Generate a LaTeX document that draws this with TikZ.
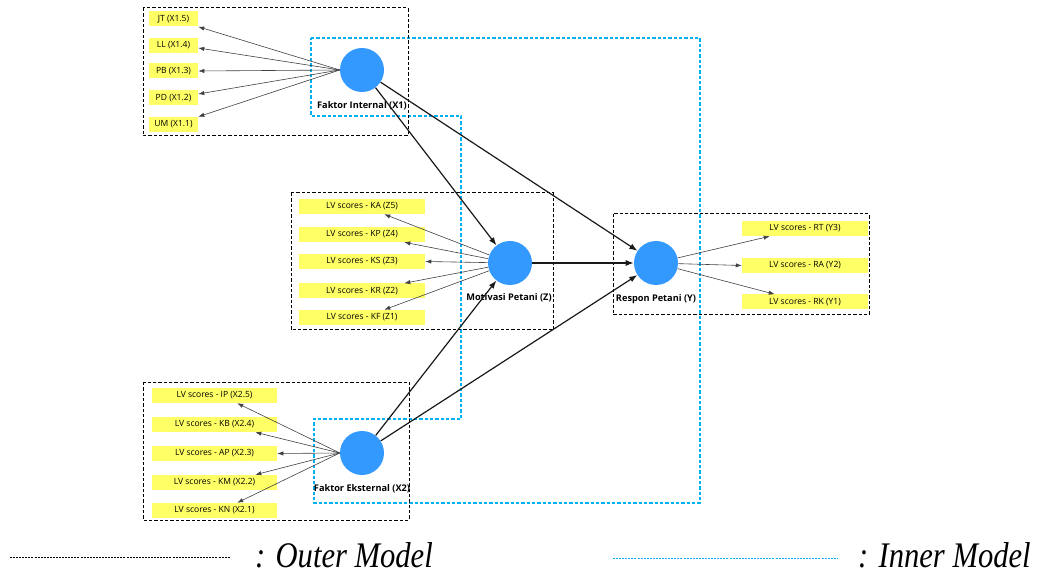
\documentclass[tikz,border=0pt]{standalone}
\usepackage{fontspec}
\newfontfamily\uifont{Open Sans}
\newfontfamily\legfont{Liberation Serif}
\usetikzlibrary{arrows.meta,calc}
\definecolor{ylw}{RGB}{255,255,102}
\definecolor{lvblue}{RGB}{51,153,255}
\definecolor{innerblue}{RGB}{0,176,240}
\begin{document}
\begin{tikzpicture}[x=0.75pt,y=-0.75pt,
  ybox/.style={fill=ylw, inner sep=0pt, minimum height=11.25pt, font=\uifont\fontsize{6.4}{7}\selectfont},
  lv/.style={circle, fill=lvblue, minimum size=33pt, inner sep=0pt},
  lvlabel/.style={font=\uifont\bfseries\fontsize{6.9}{8}\selectfont, inner sep=0pt},
  outerbox/.style={draw=black, line width=0.75pt, dash pattern=on 2.6pt off 1.4pt},
  innerbox/.style={draw=innerblue, line width=0.85pt, dash pattern=on 2.6pt off 1.4pt},
  outarrow/.style={draw=black!75, line width=0.45pt, -{Latex[length=4.5pt,width=3.2pt]}},
  inarrow/.style={draw=black!90, line width=0.9pt, -{Latex[length=6pt,width=4.5pt]}},
  legtext/.style={font=\legfont\itshape\fontsize{27}{30}\selectfont, inner sep=0pt, xscale=0.85, anchor=base west}
]
\useasboundingbox (0,0) rectangle (1038,573);

% inner model polygon
\draw[innerbox] (311,38) -- (700,38) -- (700,503) -- (314,503) -- (314,419) -- (461,419) -- (461,116) -- (311,116) -- cycle;

% outer model boxes
\draw[outerbox] (143,8) rectangle (408,136);
\draw[outerbox] (291,193) rectangle (553,330);
\draw[outerbox] (613,214) rectangle (869,315);
\draw[outerbox] (143,382) rectangle (409,520);

% latent variables
\node[lv] (x1) at (362,70) {};
\node[lv] (z) at (510,263) {};
\node[lv] (y) at (656,263) {};
\node[lv] (x2) at (362,453) {};

\node[lvlabel] (x1l) at (362,106) {Faktor Internal (X1)};
\node[lvlabel] (zl) at (509,298) {Motivasi Petani (Z)};
\node[lvlabel] (yl) at (656,299) {Respon Petani (Y)};
\node[lvlabel] (x2l) at (362,489) {Faktor Eksternal (X2)};

% X1 indicators
\node[ybox, minimum width=36.75pt] (jt) at (173.5,19) {JT (X1.5)};
\node[ybox, minimum width=36.75pt] (ll) at (173.5,45.5) {LL (X1.4)};
\node[ybox, minimum width=36.75pt] (pb) at (173.5,71) {PB (X1.3)};
\node[ybox, minimum width=36.75pt] (pd) at (173.5,98) {PD (X1.2)};
\node[ybox, minimum width=36.75pt] (um) at (173.5,124.5) {UM (X1.1)};

% Z indicators
\node[ybox, minimum width=94.5pt] (ka) at (362,206.5) {LV scores - KA (Z5)};
\node[ybox, minimum width=94.5pt] (kp) at (362,234.5) {LV scores - KP (Z4)};
\node[ybox, minimum width=94.5pt] (ks) at (362,261.5) {LV scores - KS (Z3)};
\node[ybox, minimum width=94.5pt] (kr) at (362,291) {LV scores - KR (Z2)};
\node[ybox, minimum width=94.5pt] (kf) at (362,317.5) {LV scores - KF (Z1)};

% Y indicators
\node[ybox, minimum width=94.5pt] (rt) at (805,228.5) {LV scores - RT (Y3)};
\node[ybox, minimum width=94.5pt] (ra) at (805,265.5) {LV scores - RA (Y2)};
\node[ybox, minimum width=94.5pt] (rk) at (805,302) {LV scores - RK (Y1)};

% X2 indicators
\node[ybox, minimum width=93.75pt] (ip) at (214.5,395.5) {LV scores - IP (X2.5)};
\node[ybox, minimum width=93.75pt] (kb) at (214.5,424.5) {LV scores - KB (X2.4)};
\node[ybox, minimum width=93.75pt] (ap) at (214.5,453.5) {LV scores - AP (X2.3)};
\node[ybox, minimum width=93.75pt] (km) at (214.5,482.5) {LV scores - KM (X2.2)};
\node[ybox, minimum width=93.75pt] (kn) at (214.5,510.5) {LV scores - KN (X2.1)};

% outer arrows X1
\draw[outarrow] (x1.west) -- (jt.south east);
\draw[outarrow] (x1.west) -- ($(ll.east)+(0,2.5)$);
\draw[outarrow] (x1.west) -- (pb.east);
\draw[outarrow] (x1.west) -- ($(pd.east)+(0,-4)$);
\draw[outarrow] (x1.west) -- (um.north east);

% outer arrows Z
\draw[outarrow] (z) -- ($(ka.south east)+(-41,0)$);
\draw[outarrow] (z) -- ($(kp.south east)+(-21,0)$);
\draw[outarrow] (z) -- (ks.east);
\draw[outarrow] (z) -- ($(kr.north east)+(-21,0)$);
\draw[outarrow] (z) -- ($(kf.north east)+(-41,0)$);

% outer arrows Y
\draw[outarrow] (y) -- ($(rt.south west)+(28,0)$);
\draw[outarrow] (y) -- (ra.west);
\draw[outarrow] (y) -- ($(rk.north west)+(33,0)$);

% outer arrows X2
\draw[outarrow] (x2.west) -- ($(ip.south east)+(-40,0)$);
\draw[outarrow] (x2.west) -- ($(kb.south east)+(-22,0)$);
\draw[outarrow] (x2.west) -- (ap.east);
\draw[outarrow] (x2.west) -- ($(km.north east)+(-22,0)$);
\draw[outarrow] (x2.west) -- ($(kn.north east)+(-40,0)$);

% inner arrows
\draw[inarrow] (x1) -- (z);
\draw[inarrow] (x1) -- (y);
\draw[inarrow] (z) -- (y);
\draw[inarrow] (x2) -- (z);
\draw[inarrow] (x2) -- (y);

% legend
\coordinate (la) at (10,557);
\coordinate (lb) at (230,557);
\coordinate (lc) at (613,558);
\coordinate (ld) at (837,558);
\draw[outerbox, line width=0.6pt, dash pattern=on 1.5pt off 0.8pt] (la) -- (lb);
\draw[innerbox, line width=0.6pt, dash pattern=on 1.5pt off 0.8pt] (lc) -- (ld);
\node[legtext] (lt1) at (255,567) {: Outer Model};
\node[legtext] (lt2) at (858,567) {: Inner Model};
\end{tikzpicture}
\end{document}
